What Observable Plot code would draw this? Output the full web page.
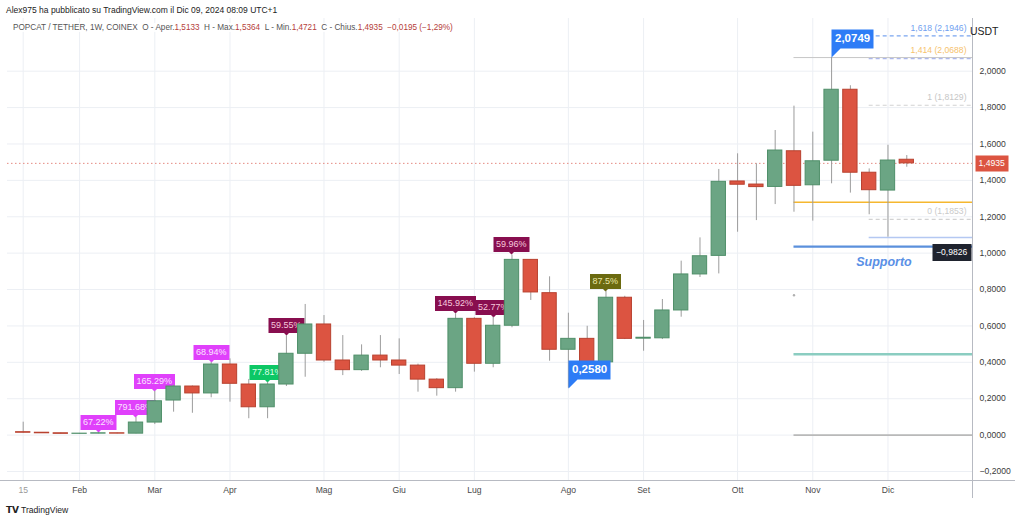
<!DOCTYPE html>
<html>
<head>
<meta charset="utf-8">
<script src="https://cdn.jsdelivr.net/npm/d3@7"></script>
<script src="https://cdn.jsdelivr.net/npm/@observablehq/plot@0.6"></script>
<style>
  body { margin: 0; background: #fff; font-family: "Liberation Sans", Arial, sans-serif; }
  #wrap { position: relative; width: 1024px; height: 522px; overflow: hidden; background: #fff; }
  #h1 { position: absolute; left: 6px; top: 5px; font-size: 8.5px; color: #222; white-space: nowrap; }
  #chart { position: absolute; left: 0; top: 18px; }
  #legend { position: absolute; left: 11px; top: 23px; font-size: 8.2px; color: #555; white-space: nowrap; background: rgba(255,255,255,0.85); padding: 0 2px; }
  #legend .v { color: #b5403a; }
  #foot { position: absolute; left: 6px; top: 505px; font-size: 8.6px; color: #222; white-space: nowrap; }
  #foot b { font-size: 9px; letter-spacing: -0.5px; margin-right: 3px; }
  .t-mag text { fill: #fbe4ff; }
  .t-grn text { fill: #dcffe9; }
  .t-mar text { fill: #f6c9dc; }
  .t-olv text { fill: #ece8a8; }
  .t-blu text { fill: #ffffff; }
  .t-drk text { fill: #ffffff; }
  .t-red text { fill: #ffffff; }
</style>
</head>
<body>
<div id="wrap">
  <div id="h1">Alex975 ha pubblicato su TradingView.com il Dic 09, 2024 08:09 UTC+1</div>
  <div id="chart"></div>
  <div id="legend">POPCAT / TETHER, 1W, COINEX&nbsp;&nbsp;O - Aper.<span class="v">1,5133</span>&nbsp;&nbsp;H - Max.<span class="v">1,5364</span>&nbsp;&nbsp;L - Min.<span class="v">1,4721</span>&nbsp;&nbsp;C - Chius.<span class="v">1,4935</span>&nbsp;&nbsp;<span class="v">−0,0195 (−1,29%)</span></div>
  <div id="foot"><b>𝗧𝗩</b>TradingView</div>
</div>
<script>
// ---- weekly candles (POPCAT/USDT, 1W) ----
const weeks = [
  "2024-01-15","2024-01-22","2024-01-29","2024-02-05","2024-02-12","2024-02-19","2024-02-26",
  "2024-03-04","2024-03-11","2024-03-18","2024-03-25","2024-04-01","2024-04-08","2024-04-15",
  "2024-04-22","2024-04-29","2024-05-06","2024-05-13","2024-05-20","2024-05-27","2024-06-03",
  "2024-06-10","2024-06-17","2024-06-24","2024-07-01","2024-07-08","2024-07-15","2024-07-22",
  "2024-07-29","2024-08-05","2024-08-12","2024-08-19","2024-08-26","2024-09-02","2024-09-09",
  "2024-09-16","2024-09-23","2024-09-30","2024-10-07","2024-10-14","2024-10-21","2024-10-28",
  "2024-11-04","2024-11-11","2024-11-18","2024-11-25","2024-12-02","2024-12-09"
];
const opens = [
  0.016,0.013,0.010,0.007,0.008,0.010,0.008,
  0.069,0.190,0.267,0.229,0.388,0.278,0.153,
  0.278,0.447,0.608,0.410,0.357,0.437,0.410,
  0.382,0.305,0.258,0.639,0.392,0.601,0.963,
  0.780,0.469,0.529,0.400,0.755,0.530,0.532,
  0.685,0.883,0.985,1.394,1.377,1.364,1.560,
  1.373,1.508,1.898,1.442,1.344,1.5133
];
const highs = [
  0.071,0.014,0.011,0.009,0.012,0.011,0.098,
  0.241,0.275,0.270,0.400,0.419,0.306,0.290,
  0.547,0.718,0.657,0.547,0.496,0.547,0.529,
  0.390,0.310,0.667,0.645,0.648,0.990,0.965,
  0.870,0.670,0.598,0.790,0.763,0.630,0.745,
  0.956,1.084,1.460,1.546,1.491,1.674,1.808,
  1.665,2.0749,1.920,1.463,1.593,1.5364
];
const lows = [
  0.011,0.009,0.006,0.006,0.007,0.007,0.007,
  0.058,0.126,0.120,0.205,0.181,0.090,0.090,
  0.267,0.318,0.400,0.327,0.350,0.370,0.333,
  0.236,0.214,0.236,0.346,0.370,0.590,0.740,
  0.406,0.258,0.370,0.380,0.525,0.461,0.525,
  0.648,0.866,0.886,1.115,1.179,1.267,1.225,
  1.176,1.381,1.330,1.211,1.088,1.4721
];
const closes = [
  0.013,0.010,0.007,0.008,0.010,0.008,0.069,
  0.186,0.267,0.229,0.388,0.282,0.153,0.278,
  0.447,0.608,0.410,0.357,0.437,0.410,0.382,
  0.305,0.258,0.639,0.392,0.601,0.963,0.784,
  0.469,0.529,0.400,0.755,0.529,0.535,0.685,
  0.883,0.983,1.392,1.376,1.363,1.564,1.370,
  1.505,1.898,1.442,1.346,1.509,1.4935
];

// ---- percentage callouts ----
const pctWeeks  = ["2024-02-12","2024-02-26","2024-03-04","2024-03-25","2024-04-15","2024-04-22","2024-06-24","2024-07-08","2024-07-15","2024-08-19"];
const pctTexts  = ["67.22%","791.68%","165.29%","68.94%","77.81%","59.55%","145.92%","52.77%","59.96%","87.5%"];
const pctGroups = ["mag","mag","mag","mag","grn","mar","mar","mar","mar","olv"];

// ---- drawings ----
const currentPrice = 1.4935;
const extremeWeeks = ["2024-11-11","2024-08-05"];
const extremeValues = [2.0749, 0.2580];
const extremeTexts = ["2,0749","0,2580"];
const fibValues = [2.1946, 2.0688, 1.8129, 1.1853];
const fibTexts  = ["1,618 (2,1946)","1,414 (2,0688)","1 (1,8129)","0 (1,1853)"];
const fibTextColors = ["#6f9ff0","#f6c26e","#c6c6c6","#cacaca"];
const fibLineColors = ["#7aa5f0","#aab6ee","#d2d2d2","#d2d2d2"];
const fibStart = "2024-11-25";
const hLineValues = [2.0749, 1.28, 1.036, 0.4446, 0.0];
const hLineColors = ["#c6c6c6","#f5b72f","#5b90dc","#8bcdc1","#b9b9b9"];
const hLineWidths = [1, 1.6, 2.4, 2.4, 1.6];
const hLineStart = "2024-10-28";
const lowLineValue = 1.086, lowLineStart = "2024-11-25";
const measureText = "−0,9826", measureWeek = "2024-12-18T12:00:00Z", measureValue = 1.001;
const supportText = "Supporto", supportWeek = "2024-11-30T12:00:00Z", supportValue = 0.952;
const dotWeek = "2024-10-28", dotValue = 0.769;

// ---- axes ----
const yTicks = [-0.2,0,0.2,0.4,0.6,0.8,1.0,1.2,1.4,1.6,1.8,2.0];
const xTickWeeks  = ["2024-01-15","2024-02-05","2024-03-04","2024-04-01","2024-05-06","2024-06-03","2024-07-01","2024-08-05","2024-09-02","2024-10-07","2024-11-04","2024-12-02"];
const xTickLabels = ["15","Feb","Mar","Apr","Mag","Giu","Lug","Ago","Set","Ott","Nov","Dic"];
const xDomain = [new Date("2024-01-09T03:42:00Z"), new Date("2025-01-02T11:17:00Z")];
const yDomain = [-0.2495, 2.2896];

// ---- build tables ----
const candles = weeks.map((w, i) => ({date: new Date(w), open: opens[i], high: highs[i], low: lows[i], close: closes[i]}));
const up = candles.filter(d => d.close >= d.open);
const down = candles.filter(d => d.close < d.open);
const byWeek = new Map(candles.map(d => [d.date.getTime(), d]));
const pct = pctWeeks.map((w, i) => ({date: new Date(w), y: byWeek.get(new Date(w).getTime()).high, text: pctTexts[i], g: pctGroups[i]}));
const extremes = extremeWeeks.map((w, i) => ({date: new Date(w), y: extremeValues[i], text: extremeTexts[i]}));
const fibs = fibValues.map((v, i) => ({y: v, text: fibTexts[i], tc: fibTextColors[i], lc: fibLineColors[i], start: new Date(fibStart)}));
const hLines = hLineValues.map((v, i) => ({y: v, c: hLineColors[i], w: hLineWidths[i], start: new Date(hLineStart)}));
const tickMap = new Map(xTickWeeks.map((w, i) => [new Date(w).getTime(), xTickLabels[i]]));
const xTicks = xTickWeeks.map(w => new Date(w));
const fmtY = v => (v < 0 ? "−" : "") + Math.abs(v).toFixed(4).replace(".", ",");
const fmtX = d => tickMap.get(d.getTime());
const xEnd = xDomain[1];
const halfBody = 64; // hours either side of the week

const tipCommon = {x: "date", y: "y", title: "text", stroke: "none", pathFilter: "none", fontFamily: "Liberation Sans, Arial, sans-serif"};
const pctTip = (g, fill) => Plot.tip(pct.filter(d => d.g === g), {...tipCommon, anchor: "bottom", fill, pointerSize: 5, textPadding: 2.5, fontSize: 9, className: "t-" + g});

const chart = Plot.plot({
  width: 1024, height: 480,
  marginLeft: 7, marginRight: 52, marginTop: 0, marginBottom: 18,
  x: {type: "utc", domain: xDomain},
  y: {domain: yDomain},
  style: {fontFamily: "Liberation Sans, Arial, sans-serif", fontSize: "8.6px", background: "transparent", color: "#333"},
  marks: [
    Plot.gridY(yTicks, {stroke: "#eceff4", strokeOpacity: 1}),
    Plot.gridX(xTicks, {stroke: "#eceff4", strokeOpacity: 1}),
    Plot.ruleY([currentPrice], {stroke: "#e58a80", strokeDasharray: "1.5,2.5"}),
    // drawings
    Plot.ruleY(fibs, {y: "y", x1: "start", x2: () => xEnd, stroke: "lc", strokeDasharray: "4,3", strokeWidth: 1.2}),
    Plot.text(fibs, {y: "y", x: () => xEnd, text: "text", fill: "tc", textAnchor: "end", dx: -6, dy: -8, fontSize: 8.6}),
    Plot.ruleY(hLines, {y: "y", x1: "start", x2: () => xEnd, stroke: "c", strokeWidth: "w"}),
    Plot.ruleY([lowLineValue], {x1: () => new Date(lowLineStart), x2: () => xEnd, stroke: "#b4c8f2", strokeWidth: 1.5}),
    Plot.dot([{date: new Date(dotWeek), y: dotValue}], {x: "date", y: "y", r: 1.2, fill: "#b0b0b0", stroke: "none"}),
    Plot.text([{date: new Date(supportWeek), y: supportValue, text: supportText}], {x: "date", y: "y", text: "text", fontSize: 12.5, fontStyle: "italic", fontWeight: 600, fill: "#5a90e6"}),
    // percentage callouts (behind candles)
    pctTip("mag", "#e040fb"),
    pctTip("grn", "#0cc765"),
    pctTip("mar", "#880e4f"),
    pctTip("olv", "#6b6a10"),
    // candles
    Plot.ruleX(candles, {x: "date", y1: "low", y2: "high", stroke: "#9c9c9c", strokeWidth: 1}),
    Plot.rect(up, {x1: d => d3.utcHour.offset(d.date, -halfBody), x2: d => d3.utcHour.offset(d.date, halfBody), y1: "open", y2: "close", fill: "#6ba584", stroke: "#4f8f69", strokeWidth: 1}),
    Plot.rect(down, {x1: d => d3.utcHour.offset(d.date, -halfBody), x2: d => d3.utcHour.offset(d.date, halfBody), y1: "open", y2: "close", fill: "#dc5441", stroke: "#b8412f", strokeWidth: 1}),
    // extreme price callouts
    Plot.tip(extremes, {...tipCommon, anchor: "bottom-left", fill: "#2d7cf6", pointerSize: 9, textPadding: 3.5, fontSize: 11.5, fontWeight: "bold", className: "t-blu"}),
    Plot.tip([{date: new Date(measureWeek), y: measureValue, text: measureText}], {...tipCommon, anchor: "left", fill: "#1f232e", pointerSize: 0, textPadding: 3.5, fontSize: 8.6, className: "t-drk"}),
    // axes
    Plot.ruleY([yDomain[0]], {stroke: "#b7bac2", insetRight: -43, insetLeft: -7}),
    Plot.ruleX([xEnd], {stroke: "#b7bac2", insetBottom: -18}),
    Plot.axisY(yTicks, {anchor: "right", tickSize: 0, tickPadding: 7, tickFormat: fmtY, fill: "#3a3a3a", fontSize: 8.6}),
    Plot.axisX(xTicks.slice(0, 1), {tickSize: 0, tickPadding: 6, tickFormat: fmtX, fill: "#9a9a9a", fontSize: 8.6}),
    Plot.axisX(xTicks.slice(1), {tickSize: 0, tickPadding: 6, tickFormat: fmtX, fill: "#4a4a4a", fontSize: 8.6}),
    Plot.text(["USDT"], {frameAnchor: "top-right", dx: 26, dy: 9, fontSize: 10.5, fill: "#222", fontWeight: 500}),
    Plot.tip([{date: xEnd, y: currentPrice, text: "1,4935"}], {...tipCommon, anchor: "left", dx: 3, fill: "#dc5441", pointerSize: 0, textPadding: 3, fontSize: 8.6, className: "t-red"})
  ]
});
document.getElementById("chart").appendChild(chart);
</script>
</body>
</html>
